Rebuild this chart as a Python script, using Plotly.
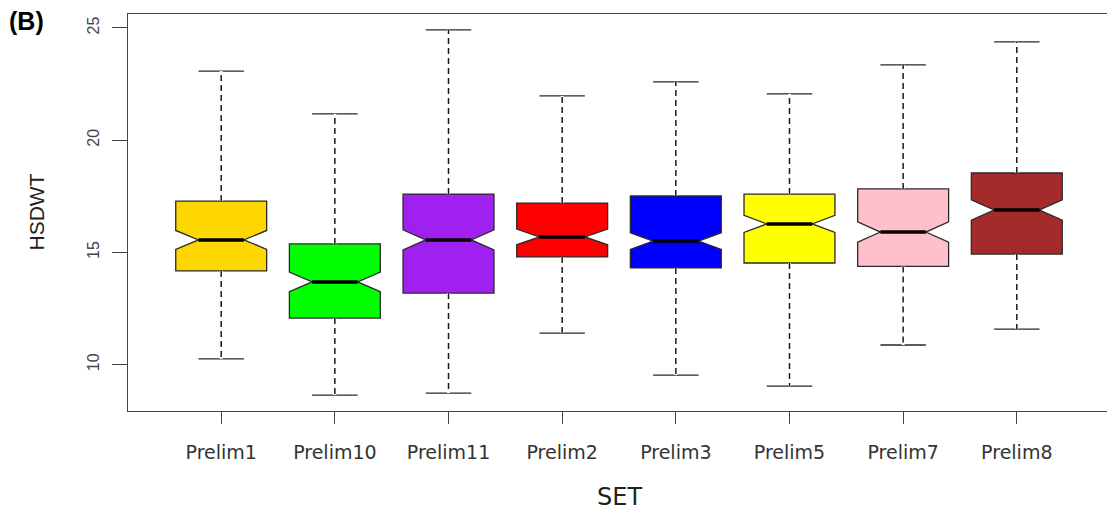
import plotly.graph_objects as go

categories = ["Prelim1", "Prelim10", "Prelim11", "Prelim2", "Prelim3", "Prelim5", "Prelim7", "Prelim8"]
lower_whisker = [10.26, 8.65, 8.74, 11.41, 9.54, 9.05, 10.88, 11.59]
q1_vals = [14.18, 12.08, 13.19, 14.80, 14.31, 14.53, 14.38, 14.93]
medians = [15.56, 13.69, 15.56, 15.69, 15.51, 16.27, 15.91, 16.89]
q3_vals = [17.29, 15.38, 17.60, 17.20, 17.52, 17.60, 17.83, 18.54]
upper_whisker = [23.08, 21.17, 24.91, 21.97, 22.60, 22.06, 23.35, 24.38]
notch_spans = [0.42, 0.44, 0.45, 0.35, 0.37, 0.38, 0.45, 0.45]
colors = ["#FFD700", "#00FF00", "#A020F0", "#FF0000", "#0000FF", "#FFFF00", "#FFC0CB", "#A52A2A"]
y_ticks = [10, 15, 20, 25]

BOX_W = 0.8
NOTCH_W = 0.25
positions = list(range(1, len(categories) + 1))

fig = go.Figure()

for i, cat in enumerate(categories):
    fig.add_trace(go.Box(
        x=[positions[i]], q1=[q1_vals[i]], median=[medians[i]], q3=[q3_vals[i]],
        lowerfence=[lower_whisker[i]], upperfence=[upper_whisker[i]],
        notchspan=[notch_spans[i]], notched=True, notchwidth=NOTCH_W,
        width=BOX_W, whiskerwidth=0.5, fillcolor=colors[i],
        line=dict(color="#2a2a2a", width=1.3), boxpoints=False,
        hoverinfo="skip", showlegend=False, name=cat,
    ))

# dashed whisker stems: first blank out solid stems, then draw dashes
stem_x, stem_y = [], []
for i in range(len(categories)):
    stem_x += [positions[i], positions[i], None, positions[i], positions[i], None]
    stem_y += [q3_vals[i], upper_whisker[i], None, q1_vals[i], lower_whisker[i], None]

fig.add_trace(go.Scatter(x=stem_x, y=stem_y, mode="lines",
                         line=dict(color="white", width=3), hoverinfo="skip", showlegend=False))
fig.add_trace(go.Scatter(x=stem_x, y=stem_y, mode="lines",
                         line=dict(color="#1a1a1a", width=1.5, dash="6px,4px"),
                         hoverinfo="skip", showlegend=False))

# thick median lines spanning the notch waist
half = BOX_W / 2 * (1 - 2 * NOTCH_W)
med_x, med_y = [], []
for i in range(len(categories)):
    med_x += [positions[i] - half, positions[i] + half, None]
    med_y += [medians[i], medians[i], None]
fig.add_trace(go.Scatter(x=med_x, y=med_y, mode="lines",
                         line=dict(color="black", width=3.5), hoverinfo="skip", showlegend=False))

fig.update_layout(
    width=1107, height=505,
    margin=dict(l=120, r=5, t=6, b=102),
    paper_bgcolor="white", plot_bgcolor="white",
    showlegend=False,
    font=dict(family="Liberation Sans, Arial, sans-serif", color="#333"),
)

fig.update_xaxes(
    range=[0.18, len(categories) + 0.82],
    tickmode="array", tickvals=positions, ticktext=categories,
    ticks="outside", ticklen=12, tickwidth=1.3, tickcolor="#444",
    tickfont=dict(family="DejaVu Sans", size=19, color="#333"),
    ticklabelstandoff=12,
    showline=True, linecolor="#444", linewidth=1.3, mirror=True,
    showgrid=False, zeroline=False,
)
fig.update_yaxes(
    range=[7.94, 25.62],
    tickmode="array", tickvals=y_ticks, ticktext=[str(v) for v in y_ticks],
    ticks="outside", ticklen=15, tickwidth=1.3, tickcolor="#444",
    tickangle=-90,
    tickfont=dict(family="Liberation Sans", size=16, color="#444"),
    ticklabelstandoff=6,
    showline=True, linecolor="#444", linewidth=1.3, mirror=True,
    showgrid=False, zeroline=False,
)

fig.add_annotation(text="SET", xref="paper", yref="paper", x=0.5, y=0,
                   yshift=-86, showarrow=False, yanchor="middle",
                   font=dict(family="DejaVu Sans", size=24, color="#222"))
fig.add_annotation(text="HSDWT", xref="paper", yref="paper", x=0, y=0.5,
                   xshift=-92, textangle=-90, showarrow=False, xanchor="center",
                   font=dict(family="Liberation Sans", size=21, color="#222"))
fig.add_annotation(text="<b>(B)</b>", xref="paper", yref="paper", x=0, y=1,
                   xshift=-121, yshift=9, showarrow=False, xanchor="left", yanchor="top",
                   font=dict(family="Liberation Sans", size=25, color="black"))

fig.write_html("out.html")
